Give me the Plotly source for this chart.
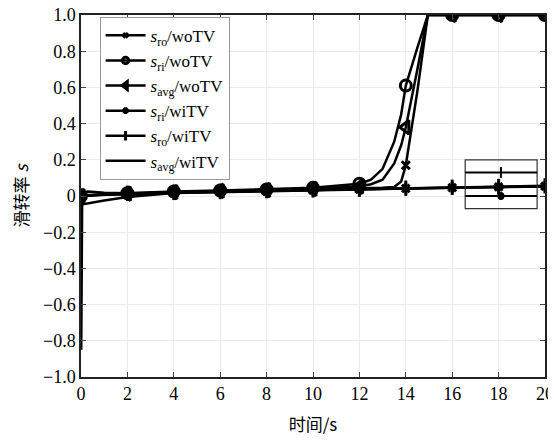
import plotly.graph_objects as go

# ---- data ----
t_wo = [0, 0.5, 1, 2, 4, 6, 8, 10, 12, 12.5, 13, 13.5, 13.8, 14, 14.5, 14.95, 16, 18, 20]
s_ro_wo  = [0, 0.004, 0.007, 0.012, 0.02, 0.025, 0.03, 0.035, 0.04, 0.042, 0.045, 0.05, 0.08, 0.17, 0.58, 1.0, 1.0, 1.0, 1.0]
s_ri_wo  = [0, 0.006, 0.01, 0.015, 0.025, 0.03, 0.036, 0.045, 0.068, 0.09, 0.15, 0.3, 0.45, 0.61, 0.82, 1.0, 1.0, 1.0, 1.0]
s_avg_wo = [0, 0.005, 0.008, 0.013, 0.022, 0.028, 0.033, 0.04, 0.052, 0.065, 0.09, 0.18, 0.28, 0.38, 0.70, 1.0, 1.0, 1.0, 1.0]

t_wi = [0, 0.01, 0.05, 0.1, 0.3, 0.5, 1, 1.5, 2, 4, 6, 8, 10, 12, 14, 16, 18, 20]
s_ri_wi  = [0, -0.85, -0.02, 0.0, 0.005, 0.006, 0.008, 0.009, 0.01, 0.018, 0.024, 0.028, 0.033, 0.037, 0.042, 0.046, 0.05, 0.054]
s_ro_wi  = [0, 0.0, 0.01, 0.02, 0.025, 0.022, 0.018, 0.016, 0.015, 0.02, 0.025, 0.03, 0.034, 0.038, 0.043, 0.048, 0.052, 0.056]
s_avg_wi = [0, -0.02, -0.04, -0.045, -0.04, -0.035, -0.025, -0.015, -0.005, 0.016, 0.022, 0.027, 0.032, 0.036, 0.041, 0.045, 0.049, 0.053]

marker_times = [0, 2, 4, 6, 8, 10, 12, 14, 16, 18, 20]
legend_names = ["<i>s</i><sub>ro</sub>/woTV", "<i>s</i><sub>ri</sub>/woTV", "<i>s</i><sub>avg</sub>/woTV",
                "<i>s</i><sub>ri</sub>/wiTV", "<i>s</i><sub>ro</sub>/wiTV", "<i>s</i><sub>avg</sub>/wiTV"]
y_ticks = [1.0, 0.8, 0.6, 0.4, 0.2, 0, -0.2, -0.4, -0.6, -0.8, -1.0]
y_ticktext = ["1.0", "0.8", "0.6", "0.4", "0.2", "0", "\u22120.2", "\u22120.4", "\u22120.6", "\u22120.8", "\u22121.0"]
x_ticks = [0, 2, 4, 6, 8, 10, 12, 14, 16, 18, 20]

FONT = "Liberation Serif, Times New Roman, serif"


def sizes(ts, s):
    return [s if any(abs(tt - m) < 1e-9 for m in marker_times) else 0 for tt in ts]


fig = go.Figure()
series = [
    (t_wo, s_ro_wo, "x-thin-open", 8, legend_names[0]),
    (t_wo, s_ri_wo, "circle-open", 11, legend_names[1]),
    (t_wo, s_avg_wo, "triangle-left-open", 12, legend_names[2]),
    (t_wi, s_ri_wi, "asterisk-open", 9, legend_names[3]),
    (t_wi, s_ro_wi, "line-ns-open", 11, legend_names[4]),
    (t_wi, s_avg_wi, None, 0, legend_names[5]),
]
for ts, ys, sym, sz, name in series:
    if sym is None:
        fig.add_trace(go.Scatter(x=ts, y=ys, mode="lines", name=name,
                                 line=dict(color="black", width=2.5)))
    else:
        fig.add_trace(go.Scatter(x=ts, y=ys, mode="lines+markers", name=name,
                                 line=dict(color="black", width=2.5),
                                 marker=dict(symbol=sym, size=sizes(ts, sz), color="black",
                                             opacity=1,
                                             line=dict(color="black", width=3))))

# stray legend-like box on the right (decoration, paper coords)
bx0, bx1 = 0.828, 0.983
by0, by1 = 0.465, 0.6
shapes = [
    dict(type="rect", xref="paper", yref="paper", x0=bx0, x1=bx1, y0=by0, y1=by1,
         line=dict(color="#333", width=1.2)),
    dict(type="line", xref="paper", yref="paper", x0=bx0, x1=bx1, y0=0.565, y1=0.565,
         line=dict(color="black", width=2)),
    dict(type="line", xref="paper", yref="paper", x0=bx0, x1=bx1, y0=0.5, y1=0.5,
         line=dict(color="black", width=2)),
    dict(type="line", xref="paper", yref="paper", x0=0.905, x1=0.905, y0=0.55, y1=0.58,
         line=dict(color="black", width=2)),
    dict(type="circle", xref="paper", yref="paper", x0=0.898, x1=0.912, y0=0.49, y1=0.51,
         fillcolor="black", line=dict(color="black", width=1)),
]

# page body has an 8px margin, so the figure is 8px smaller and offsets are reduced
fig.update_layout(
    width=548, height=439,
    margin=dict(l=73, r=11, t=7, b=70),
    plot_bgcolor="white", paper_bgcolor="white",
    font=dict(family=FONT, size=16, color="black"),
    shapes=shapes,
    showlegend=True,
    legend=dict(x=0.04, y=0.995, xanchor="left", yanchor="top",
                bgcolor="white", bordercolor="#999", borderwidth=1,
                font=dict(family=FONT, size=17), tracegroupgap=0, itemwidth=40),
    xaxis=dict(range=[0, 20], tickvals=x_ticks, ticks="inside", ticklen=5,
               showline=True, linecolor="#222", linewidth=1.5, mirror="ticks",
               showgrid=True, gridcolor="#ececec", zeroline=False, automargin=False,
               ticklabeloverflow="allow",
               title=dict(text="时间/s", font=dict(family="Noto Sans CJK SC", size=17), standoff=16),
               tickfont=dict(size=18)),
    yaxis=dict(range=[-1.0, 1.0], tickvals=y_ticks, ticktext=y_ticktext, ticks="inside", ticklen=5,
               showline=True, linecolor="#222", linewidth=1.5, mirror="ticks",
               showgrid=True, gridcolor="#ececec", zeroline=False, automargin=False,
               ticklabeloverflow="allow",
               title=dict(text="滑转率 <i>s</i>", font=dict(family="Noto Sans CJK SC", size=17), standoff=12),
               tickfont=dict(size=18)),
)

fig.write_html("out.html")
